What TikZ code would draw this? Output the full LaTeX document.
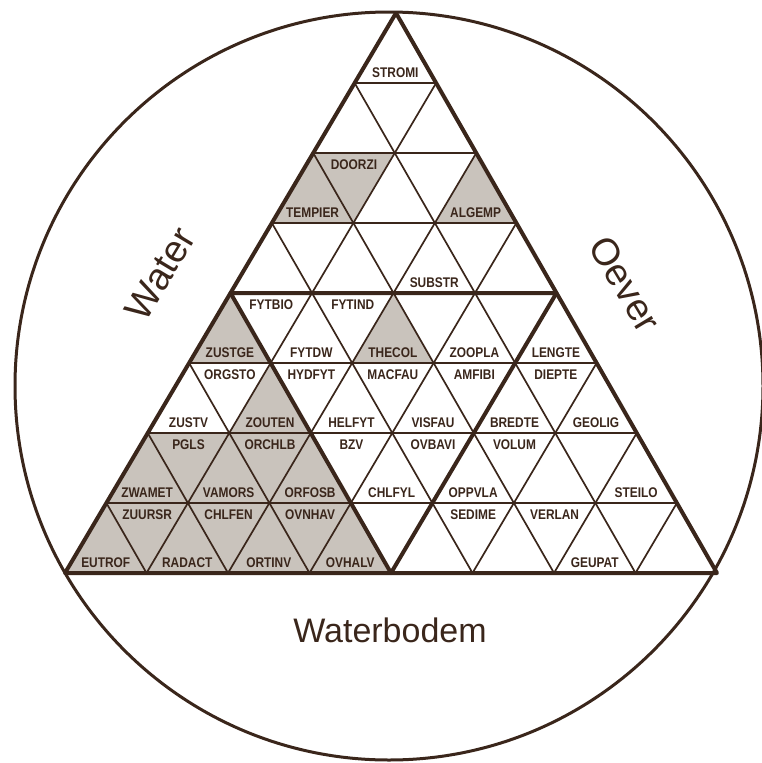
\documentclass[tikz,border=0pt]{standalone}
\usepackage{fontspec}
\setmainfont{Liberation Sans}
\newfontfamily\lblfont[FakeStretch=0.85]{Liberation Sans}
\usepackage{tikz}
\usetikzlibrary{calc}
\definecolor{dbrown}{HTML}{3A261B}
\definecolor{dshade}{HTML}{C9C3BC}
\tikzset{
  dgrid/.style={draw=dbrown, line width=1.7pt, line join=round},
  dthick/.style={draw=dbrown, line width=4pt, line join=round, line cap=round},
  dring/.style={draw=dbrown, line width=3pt},
  dfill/.style={fill=dshade},
  dlbl/.style={text=dbrown, font=\lblfont\bfseries\fontsize{14}{14}\selectfont, inner sep=0pt},
  dbig/.style={text=dbrown, font=\fontsize{34}{34}\selectfont, inner sep=0pt},
  dside/.style={dbig, font=\fontsize{38}{38}\selectfont},
}

\begin{document}
\begin{tikzpicture}[x=1pt,y=-1pt]
  \useasboundingbox (0,0) rectangle (762,763);

  % círculo exterior
  \draw[dring] (389,386) circle[radius=374];

  % triângulo em coordenadas de rede: (i,r) = coluna i na linha r
  \begin{scope}[shift={(396,13)}, x={(81.5pt,0pt)}, y={(-41.375pt,-70pt)}]

    % casas sombreadas (para cima / para baixo)
    \foreach \r/\j in {3/0,3/2,5/0,5/2,6/1,7/0,7/1,7/2,8/0,8/1,8/2,8/3}
      \fill[dfill] ({\j},{\r-1}) -- ({\j},{\r}) -- ({\j+1},{\r}) -- cycle;
    \foreach \r/\j in {3/0,7/0,7/1,8/0,8/1,8/2}
      \fill[dfill] ({\j},{\r-1}) -- ({\j+1},{\r-1}) -- ({\j+1},{\r}) -- cycle;

    % rede fina
    \foreach \k in {1,...,7} {
      \draw[dgrid] (0,\k) -- (\k,\k);
      \draw[dgrid] (\k,\k) -- (\k,8);
      \draw[dgrid] (0,\k) -- ({8-\k},8);
    }

    % contornos grossos
    \draw[dthick] (0,0) -- (0,8) -- (8,8) -- cycle;
    \draw[dthick] (0,4) -- (4,4) -- (4,8) -- cycle;

    % rótulos nas casas para cima
    \foreach \r/\j/\t in {1/0/STROMI, 3/0/TEMPIER, 3/2/ALGEMP, 4/2/SUBSTR,
                          5/0/ZUSTGE, 5/1/FYTDW, 5/2/THECOL, 5/3/ZOOPLA, 5/4/LENGTE,
                          6/0/ZUSTV, 6/1/ZOUTEN, 6/2/HELFYT, 6/3/VISFAU, 6/4/BREDTE, 6/5/GEOLIG,
                          7/0/ZWAMET, 7/1/VAMORS, 7/2/ORFOSB, 7/3/CHLFYL, 7/4/OPPVLA, 7/6/STEILO,
                          8/0/EUTROF, 8/1/RADACT, 8/2/ORTINV, 8/3/OVHALV, 8/6/GEUPAT}
      \node[dlbl, yshift=10.5pt] (\t) at ({\j+0.5},{\r}) {\t};

    % rótulos nas casas para baixo
    \foreach \r/\j/\t in {3/0/DOORZI, 5/0/FYTBIO, 5/1/FYTIND,
                          6/0/ORGSTO, 6/1/HYDFYT, 6/2/MACFAU, 6/3/AMFIBI, 6/4/DIEPTE,
                          7/0/PGLS, 7/1/ORCHLB, 7/2/BZV, 7/3/OVBAVI, 7/4/VOLUM,
                          8/0/ZUURSR, 8/1/CHLFEN, 8/2/OVNHAV, 8/4/SEDIME, 8/5/VERLAN}
      \node[dlbl, yshift=-12pt] (\t) at ({\j+0.5},{\r-1}) {\t};
  \end{scope}

  % nomes dos lados
  \node[dside, rotate=59] (water) at (160,274) {Water};
  \node[dside, rotate=-59] (oever) at (625,284) {Oever};
  \node[dbig] (bodem) at (390,630) {Waterbodem};

\end{tikzpicture}
\end{document}
